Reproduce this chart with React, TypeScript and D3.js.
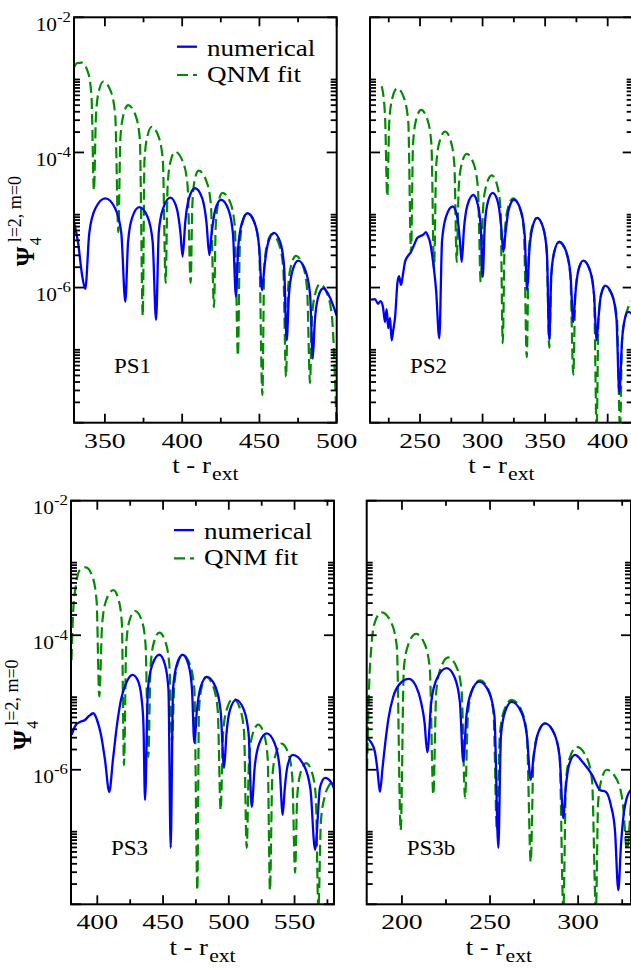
import React from 'react';
import * as d3 from 'd3';

// Each point: [t - r_ext, log10 |Psi4(l=2,m=0)|]
const ps1Numerical: [number, number][] = [
  [330.3,-5.06],[332.6,-5.33],[335.2,-5.81],[337.3,-6.02],
  [339.9,-5.19],[343.8,-4.83],[350.3,-4.68],[356.7,-4.83],[360.6,-5.19],[363.2,-6.21],
  [365.0,-5.32],[367.7,-4.96],[372.3,-4.81],[377.7,-4.96],[380.9,-5.32],[383.1,-6.48],
  [384.9,-5.17],[387.8,-4.82],[392.4,-4.67],[396.4,-4.82],[398.8,-5.17],[400.3,-5.54],
  [402.0,-5.03],[404.4,-4.68],[408.3,-4.53],[413.0,-4.68],[415.7,-5.03],[417.6,-5.52],
  [419.0,-5.21],[421.4,-4.85],[425.1,-4.70],[430.0,-4.85],[432.9,-5.21],[434.8,-6.13],
  [436.3,-5.40],[438.6,-5.05],[442.3,-4.90],[447.0,-5.05],[449.8,-5.40],[451.7,-6.04],
  [453.2,-5.70],[455.6,-5.34],[459.4,-5.19],[463.6,-5.34],[466.0,-5.70],[467.6,-6.78],
  [469.1,-6.11],[471.4,-5.75],[475.1,-5.60],[479.8,-5.75],[482.8,-6.11],[484.5,-7.05],
  [485.8,-6.51],[487.9,-6.15],[491.3,-6.01],[495.7,-6.15],[499.9,-6.41],
];
const ps1Fit: [number, number][] = [
  [330.0,-2.74],[331.9,-2.68],[335.0,-2.67],[339.0,-2.81],[341.3,-3.16],[342.9,-4.56],
  [344.2,-3.46],[346.0,-3.10],[349.0,-2.95],[353.9,-3.10],[356.7,-3.46],[358.7,-5.18],
  [360.0,-3.80],[361.9,-3.45],[365.1,-3.30],[369.8,-3.45],[372.6,-3.80],[374.5,-6.42],
  [375.6,-4.12],[377.4,-3.77],[380.3,-3.62],[384.8,-3.77],[387.5,-4.12],[389.3,-5.93],
  [390.6,-4.49],[392.4,-4.14],[395.4,-3.99],[400.5,-4.14],[403.5,-4.49],[405.5,-5.93],
  [406.6,-4.77],[408.0,-4.42],[410.6,-4.27],[415.6,-4.42],[418.6,-4.77],[420.6,-6.29],
  [421.7,-5.10],[423.4,-4.74],[426.1,-4.60],[431.1,-4.74],[434.1,-5.10],[436.1,-7.01],
  [437.3,-5.40],[439.0,-5.05],[442.0,-4.90],[446.9,-5.05],[449.8,-5.40],[451.9,-7.59],
  [453.1,-5.71],[455.0,-5.36],[458.1,-5.21],[462.7,-5.36],[465.4,-5.71],[467.2,-7.32],
  [468.5,-6.04],[470.4,-5.68],[473.7,-5.53],[478.2,-5.68],[480.9,-6.04],[482.7,-7.41],
  [484.0,-6.45],[486.0,-6.10],[489.2,-5.95],[494.0,-6.10],[497.0,-6.45],[500.0,-8.10],
];
const ps2Numerical: [number, number][] = [
  [210.0,-6.18],[214.0,-6.17],[216.4,-6.24],[218.4,-6.20],[220.4,-6.29],[222.0,-6.51],
  [223.3,-6.32],[224.6,-6.60],[226.0,-6.45],[227.3,-6.78],[228.6,-6.63],[230.0,-6.45],
  [232.0,-5.92],[233.2,-5.83],[234.8,-5.96],[236.4,-5.80],[238.0,-5.62],[240.4,-5.53],
  [242.8,-5.47],[245.2,-5.37],[247.6,-5.27],[250.0,-5.24],[252.4,-5.22],[254.8,-5.18],
  [256.4,-5.24],[258.0,-5.33],[260.4,-5.62],[262.8,-6.03],[265.4,-6.75],
  [267.6,-5.31],[270.8,-4.95],[276.1,-4.80],[279.7,-4.95],[281.9,-5.31],[283.3,-5.62],
  [285.1,-5.13],[287.9,-4.78],[292.6,-4.63],[296.3,-4.78],[298.6,-5.13],[300.1,-5.84],
  [301.7,-5.10],[304.1,-4.74],[308.1,-4.60],[312.3,-4.74],[314.9,-5.10],[316.6,-5.47],
  [318.2,-5.21],[320.8,-4.85],[325.1,-4.70],[330.4,-4.85],[333.6,-5.21],[335.7,-6.04],
  [337.3,-5.48],[339.7,-5.12],[343.7,-4.97],[348.5,-5.12],[351.4,-5.48],[353.3,-6.77],
  [354.9,-5.82],[357.3,-5.47],[361.3,-5.32],[366.9,-5.47],[370.3,-5.82],[372.5,-6.51],
  [374.1,-6.11],[376.5,-5.75],[380.5,-5.60],[385.9,-5.75],[389.1,-6.11],[391.2,-6.78],
  [392.6,-6.46],[394.6,-6.11],[397.9,-5.97],[403.6,-6.11],[407.0,-6.46],[409.3,-7.56],
  [411.5,-6.78],[413.9,-6.45],[416.3,-6.36],[420.2,-6.40],
];
const ps2Fit: [number, number][] = [
  [219.4,-3.02],[222.0,-3.45],[223.8,-4.65],
  [225.4,-3.55],[227.8,-3.20],[231.8,-3.05],[237.3,-3.20],[240.6,-3.55],[242.8,-5.49],
  [244.4,-3.88],[246.8,-3.52],[250.8,-3.37],[256.0,-3.52],[259.1,-3.88],[261.2,-5.74],
  [262.9,-4.20],[265.6,-3.84],[270.0,-3.69],[274.7,-3.84],[277.5,-4.20],[279.3,-5.62],
  [280.9,-4.53],[283.3,-4.17],[287.3,-4.02],[292.9,-4.17],[296.3,-4.53],[298.5,-5.92],
  [300.3,-4.85],[302.9,-4.49],[307.3,-4.34],[311.7,-4.49],[314.4,-4.85],[316.1,-6.82],
  [317.8,-5.18],[320.2,-4.83],[324.3,-4.68],[329.8,-4.83],[333.1,-5.18],[335.3,-7.03],
  [336.9,-5.48],[339.4,-5.12],[343.5,-4.97],[348.5,-5.12],[351.3,-5.48],[353.3,-6.89],
  [354.9,-5.84],[357.3,-5.48],[361.1,-5.33],[366.8,-5.48],[370.2,-5.84],[372.5,-7.29],
  [374.1,-6.11],[376.5,-5.75],[380.5,-5.60],[385.9,-5.75],[389.1,-6.11],[391.2,-8.11],
  [392.6,-6.49],[394.6,-6.13],[397.9,-5.99],[403.9,-6.13],[407.5,-6.49],[409.9,-8.11],
  [411.5,-6.78],[413.9,-6.45],[416.5,-6.29],[420.2,-6.18],
];
const ps3Numerical: [number, number][] = [
  [380.4,-5.48],[383.8,-5.33],[386.8,-5.29],[390.6,-5.26],[393.7,-5.20],[397.0,-5.16],
  [399.8,-5.26],[402.8,-5.48],[405.9,-5.86],[409.1,-6.33],
  [411.9,-5.85],[415.0,-5.33],[418.0,-4.96],[421.8,-4.72],[426.8,-4.59],[431.0,-4.68],
  [433.6,-4.93],[435.1,-5.33],[436.3,-6.45],
  [438.5,-4.80],[441.8,-4.44],[447.2,-4.29],[451.5,-4.44],[454.1,-4.80],[455.8,-7.16],
  [457.6,-4.80],[460.4,-4.44],[464.9,-4.29],[469.4,-4.44],[472.0,-4.80],[473.8,-5.60],
  [475.7,-5.13],[478.6,-4.77],[483.4,-4.62],[489.9,-4.77],[493.8,-5.13],[496.4,-5.97],
  [498.2,-5.47],[500.9,-5.11],[505.5,-4.96],[511.5,-5.11],[515.1,-5.47],[517.4,-6.55],
  [519.7,-5.96],[523.1,-5.61],[528.8,-5.46],[534.9,-5.61],[538.6,-5.96],[541.0,-6.67],
  [542.5,-6.29],[544.8,-5.93],[548.6,-5.78],[557.0,-5.93],[562.1,-6.29],[565.6,-7.19],
  [569.4,-6.26],[573.2,-6.12],[578.3,-6.20],[580.8,-6.33],
];
const ps3Fit: [number, number][] = [
  [380.4,-4.37],[381.5,-3.70],[383.8,-3.25],[386.8,-3.03],[391.4,-2.99],[396.5,-3.14],
  [399.5,-3.50],[401.5,-4.91],
  [403.7,-3.83],[406.8,-3.48],[412.2,-3.33],[416.3,-3.48],[418.7,-3.83],[420.3,-5.93],
  [422.0,-4.14],[424.5,-3.78],[428.7,-3.64],[433.8,-3.78],[436.7,-4.14],[438.8,-5.81],
  [440.5,-4.47],[443.0,-4.11],[447.2,-3.96],[452.0,-4.11],[454.9,-4.47],[456.8,-5.59],
  [458.4,-4.80],[460.9,-4.44],[464.9,-4.29],[470.5,-4.44],[473.8,-4.80],[476.1,-7.79],
  [477.3,-5.12],[479.4,-4.77],[482.7,-4.62],[488.3,-4.77],[491.6,-5.12],[493.8,-6.60],
  [495.7,-5.44],[498.6,-5.09],[503.4,-4.94],[508.5,-5.09],[511.6,-5.44],[513.6,-7.16],
  [515.4,-5.84],[518.0,-5.48],[522.4,-5.33],[526.9,-5.48],[529.6,-5.84],[531.3,-7.79],
  [533.1,-6.11],[535.8,-5.76],[540.2,-5.61],[545.3,-5.76],[548.3,-6.11],[550.4,-7.53],
  [552.0,-6.41],[554.5,-6.05],[558.7,-5.90],[563.4,-6.05],[566.2,-6.41],[568.1,-8.08],
  [570.1,-6.75],[573.2,-6.38],[577.0,-6.21],[580.8,-6.15],
];
const ps3bNumerical: [number, number][] = [
  [180.3,-5.53],[182.4,-5.59],[184.7,-5.74],[186.1,-6.00],[187.5,-6.33],[189.0,-5.97],
  [190.4,-5.63],[192.4,-5.23],[194.9,-4.93],[198.9,-4.72],[204.0,-4.65],[208.0,-4.76],
  [210.8,-4.99],[212.8,-5.29],[214.4,-5.74],
  [216.6,-5.00],[219.9,-4.64],[225.4,-4.49],[230.1,-4.64],[232.9,-5.00],[234.8,-5.88],
  [236.6,-5.20],[239.4,-4.84],[243.9,-4.69],[249.3,-4.84],[252.5,-5.20],[254.7,-7.16],
  [256.2,-5.49],[258.5,-5.14],[262.3,-4.99],[267.7,-5.14],[270.9,-5.49],[273.1,-6.15],
  [274.7,-5.81],[277.2,-5.46],[281.2,-5.31],[286.4,-5.46],[289.5,-5.81],[291.6,-6.72],
  [292.9,-6.29],[294.8,-5.93],[298.2,-5.78],[302.7,-5.89],[307.8,-6.07],[312.4,-6.30],
  [315.8,-6.33],[318.6,-6.53],[320.9,-6.90],[322.8,-7.79],
  [324.3,-7.12],[326.0,-6.63],[327.7,-6.41],[330.0,-6.30],
];
const ps3bFit: [number, number][] = [
  [180.2,-6.00],[181.3,-4.81],[182.7,-4.15],[184.7,-3.80],[188.5,-3.66],[193.9,-3.81],
  [197.1,-4.17],[199.3,-6.90],
  [201.1,-4.49],[203.7,-4.13],[208.0,-3.98],[212.9,-4.13],[215.8,-4.49],[217.8,-6.37],
  [219.5,-4.83],[222.1,-4.48],[226.3,-4.33],[231.1,-4.48],[233.9,-4.83],[235.8,-6.42],
  [237.5,-5.17],[240.0,-4.81],[244.3,-4.67],[249.1,-4.81],[252.0,-5.17],[253.9,-6.90],
  [255.6,-5.47],[258.1,-5.11],[262.3,-4.96],[267.7,-5.11],[270.9,-5.47],[273.1,-7.37],
  [274.7,-5.81],[277.2,-5.46],[281.2,-5.31],[286.4,-5.46],[289.5,-5.81],[291.6,-8.09],
  [293.1,-6.16],[295.4,-5.81],[299.2,-5.66],[304.7,-5.81],[307.9,-6.16],[310.1,-8.09],
  [311.3,-6.51],[313.2,-6.15],[316.2,-6.00],[322.0,-6.15],[325.4,-6.51],[327.7,-7.19],
  [330.0,-6.45],
];

const seriesNames = ['numerical', 'QNM fit'];
const panelLabels = ['PS1', 'PS2', 'PS3', 'PS3b'];
const xDomains: [number, number][] = [[330, 500], [210, 420], [380, 580], [180, 330]];
const xMajorTicks = [[350, 400, 450, 500], [250, 300, 350, 400], [400, 450, 500, 550], [200, 250, 300]];
const xMinorTicks = [[375, 425, 475], [225, 275, 325, 375], [425, 475, 525, 575], [225, 275, 325]];
const yDomain: [number, number] = [1e-8, 1e-2];
const yMajorExps = [-2, -4, -6, -8];
const yLabelExps = [-2, -4, -6];
const yMinorBaseExps = [-4, -6, -8];
const yMinorMultipliers = [2, 3, 4, 5, 6, 7, 8, 9, 10, 11, 12];

const numericalSeries = [ps1Numerical, ps2Numerical, ps3Numerical, ps3bNumerical];
const fitSeries = [ps1Fit, ps2Fit, ps3Fit, ps3bFit];

// layout (pixel boxes of the four plot frames)
const boxes = [
  { x: 74, y: 17.3, w: 262.7, h: 405.4, left: true },
  { x: 370, y: 17.3, w: 262.7, h: 405.4, left: false },
  { x: 71, y: 500.7, w: 263, h: 403.6, left: true },
  { x: 366.7, y: 500.7, w: 264.3, h: 403.6, left: false },
];

const FONT = '"Liberation Serif", "Times New Roman", Times, serif';
const BLUE = '#0000ff';
const GREEN = '#008b00';

function SText(props: any) {
  const { x, y, sx = 1, anchor = 'start', size, weight, children } = props;
  return (
    <text
      transform={`translate(${x},${y}) scale(${sx},1)`}
      textAnchor={anchor}
      fontSize={size}
      fontFamily={FONT}
      fontWeight={weight}
      fill="#000"
    >
      {children}
    </text>
  );
}

function Panel({ i }: { i: number }) {
  const b = boxes[i];
  const xs = d3.scaleLinear().domain(xDomains[i]).range([b.x, b.x + b.w]);
  const ys = d3.scaleLog().domain(yDomain).range([b.y + b.h, b.y]);
  const line = d3
    .line<[number, number]>()
    .x((d) => xs(d[0]))
    .y((d) => ys(Math.pow(10, d[1])))
    .curve(d3.curveMonotoneX);
  const clipId = `clip-${i}`;
  const bottom = b.y + b.h;
  const right = b.x + b.w;
  const tickW = 1.8;
  const minorY: number[] = [];
  yMinorBaseExps.forEach((e) => yMinorMultipliers.forEach((k) => minorY.push(k * Math.pow(10, e))));

  return (
    <g>
      <defs>
        <clipPath id={clipId}>
          <rect x={b.x} y={b.y} width={b.w} height={b.h} />
        </clipPath>
      </defs>
      <g clipPath={`url(#${clipId})`} fill="none">
        <path d={line(fitSeries[i]) || ''} stroke={GREEN} strokeWidth={2.2} strokeDasharray="11,5" />
        <path d={line(numericalSeries[i]) || ''} stroke={BLUE} strokeWidth={2.3} />
      </g>
      <g stroke="#000" strokeWidth={tickW}>
        {yMajorExps.map((e) => {
          const yy = ys(Math.pow(10, e));
          return (
            <g key={'ym' + e}>
              <line x1={b.x} x2={b.x + 10} y1={yy} y2={yy} />
              <line x1={right} x2={right - 10} y1={yy} y2={yy} />
            </g>
          );
        })}
        {minorY.map((v, k) => {
          const yy = ys(v);
          return (
            <g key={'yn' + k}>
              <line x1={b.x} x2={b.x + 6} y1={yy} y2={yy} />
              <line x1={right} x2={right - 6} y1={yy} y2={yy} />
            </g>
          );
        })}
        {xMajorTicks[i].map((t) => (
          <g key={'xm' + t}>
            <line x1={xs(t)} x2={xs(t)} y1={bottom} y2={bottom - 9} />
            <line x1={xs(t)} x2={xs(t)} y1={b.y} y2={b.y + 9} />
          </g>
        ))}
        {xMinorTicks[i].map((t) => (
          <g key={'xn' + t}>
            <line x1={xs(t)} x2={xs(t)} y1={bottom} y2={bottom - 5} />
            <line x1={xs(t)} x2={xs(t)} y1={b.y} y2={b.y + 5} />
          </g>
        ))}
      </g>
      <rect x={b.x} y={b.y} width={b.w} height={b.h} fill="none" stroke="#000" strokeWidth={2} />
      {xMajorTicks[i].map((t) => (
        <SText key={'xl' + t} x={xs(t)} y={bottom + 25} anchor="middle" size={21} sx={1.32}>
          {t}
        </SText>
      ))}
      {b.left &&
        yLabelExps.map((e) => (
          <SText key={'yl' + e} x={b.x - 3} y={ys(Math.pow(10, e)) + 13.5} anchor="end" size={19} sx={1.12}>
            <tspan>10</tspan>
            <tspan dy={-9} fontSize={15}>{String(e)}</tspan>
          </SText>
        ))}
      <SText x={b.x + b.w / 2} y={bottom + 50.5} anchor="middle" size={23.5} sx={1.14}>
        <tspan>t - r</tspan>
        <tspan dx={1} dy={7} fontSize={19}>ext</tspan>
      </SText>
      {b.left && (
        <g transform={`translate(${b.x - 40},${b.y + 249}) rotate(-90)`}>
          <text fontFamily={FONT} fontSize={25} fontWeight="bold" x={0} y={0}>Ψ</text>
          <text fontFamily={FONT} fontSize={16} x={21} y={7}>4</text>
          <text fontFamily={FONT} fontSize={18} x={24} y={-13}>l=2, m=0</text>
        </g>
      )}
      <SText x={b.x + 40} y={bottom - 49.5} size={20} sx={1.15}>
        {panelLabels[i]}
      </SText>
      {b.left && (
        <g>
          <line x1={b.x + 103} x2={b.x + 123} y1={b.y + 29.4} y2={b.y + 29.4} stroke={BLUE} strokeWidth={2.3} />
          <SText x={b.x + 133} y={b.y + 38.7} size={24} sx={1.13}>{seriesNames[0]}</SText>
          <line x1={b.x + 103} x2={b.x + 123} y1={b.y + 57.7} y2={b.y + 57.7} stroke={GREEN} strokeWidth={2.2} strokeDasharray="11,5" />
          <SText x={b.x + 133} y={b.y + 64.4} size={24} sx={1.13}>{seriesNames[1]}</SText>
        </g>
      )}
    </g>
  );
}

export default function App() {
  return (
    <svg
      width={631}
      height={969}
      style={{ position: 'absolute', left: 0, top: 0, background: '#fff' }}
    >
      <rect x={0} y={0} width={631} height={969} fill="#fff" />
      {boxes.map((_, i) => (
        <Panel key={i} i={i} />
      ))}
    </svg>
  );
}
